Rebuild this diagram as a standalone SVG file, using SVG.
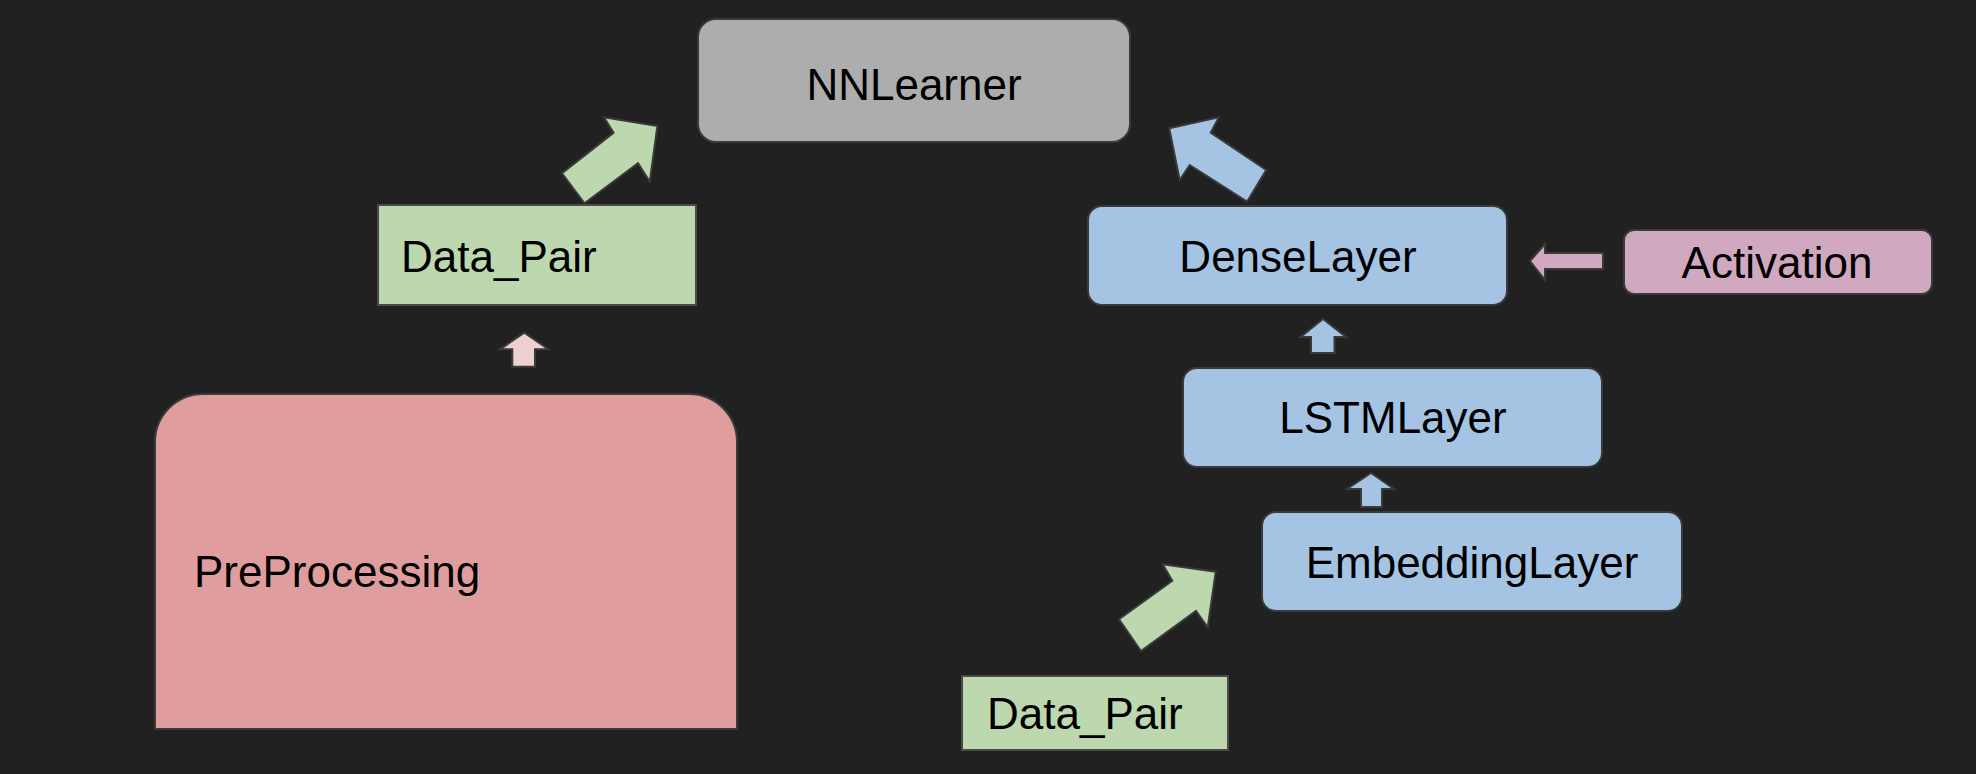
<svg xmlns="http://www.w3.org/2000/svg" width="1976" height="774" viewBox="0 0 1976 774">
<style>
.box{stroke:#3a3a3a;stroke-width:2}
.gray{fill:#adadad}
.green{fill:#bdd7ae;stroke:#4a4a4a}
.blue{fill:#a5c4e4}
.pink{fill:#d0a8bf}
.red{fill:#df9e9d}
.arrow{stroke:#3a3a3a;stroke-width:2;stroke-linejoin:miter}
text{font-family:"Liberation Sans",Arial,sans-serif;font-size:44px;fill:#000}
.c{text-anchor:middle}
</style>
<rect width="1976" height="774" fill="#212121"/>
<g id="connectors">
  <polygon class="arrow" fill="#bdd7ae" points="584.5,203.3 562,173.3 613.6,132.7 603.9,117.3 657.4,126 649.8,181.7 638,163.3"/>
  <polygon class="arrow" fill="#a5c4e4" points="1247,201.7 1266.2,170 1210.7,132.7 1218.9,117.3 1169.2,128.3 1179.7,180 1189.7,165"/>
  <polygon class="arrow" fill="#d0a8bf" points="1530,261 1545,244 1545,253 1603,253 1603,269 1545,269 1545,280"/>
  <polygon class="arrow" fill="#a5c4e4" points="1323,319 1346,337 1334.5,337 1334.5,353 1311,353 1311,337 1300.6,337"/>
  <polygon class="arrow" fill="#a5c4e4" points="1371,473 1394,489 1382,489 1382,507 1361,507 1361,489 1347,489"/>
  <polygon class="arrow" fill="#bdd7ae" points="1141,651 1119,619.3 1172.3,580.7 1162.7,564.3 1215.7,571.7 1207.7,627.3 1196,611"/>
  <polygon class="arrow" fill="#eed0d0" points="524.3,332.7 548.3,349.3 535,349.3 535,366.7 512.3,366.7 512.3,349.3 500,349.3"/>
</g>
<g id="nnlearner">
  <rect class="box gray" x="698" y="19" width="432" height="123" rx="18"/>
  <text class="c" x="914" y="100">NNLearner</text>
</g>
<g id="data_pair_top">
  <rect class="box green" x="378" y="205" width="318" height="100"/>
  <text x="401" y="272">Data_Pair</text>
</g>
<g id="denselayer">
  <rect class="box blue" x="1088" y="206" width="419" height="99" rx="14"/>
  <text class="c" x="1298" y="272">DenseLayer</text>
</g>
<g id="activation">
  <rect class="box pink" x="1624" y="230" width="308" height="64" rx="10"/>
  <text class="c" x="1777" y="278">Activation</text>
</g>
<g id="lstmlayer">
  <rect class="box blue" x="1183" y="368" width="419" height="99" rx="14"/>
  <text class="c" x="1393" y="433">LSTMLayer</text>
</g>
<g id="embeddinglayer">
  <rect class="box blue" x="1262" y="512" width="420" height="99" rx="14"/>
  <text class="c" x="1472" y="578">EmbeddingLayer</text>
</g>
<g id="preprocessing">
  <path class="box red" d="M155,729 L155,442 A48,48 0 0 1 203,394 L689,394 A48,48 0 0 1 737,442 L737,729 Z"/>
  <text x="194" y="587">PreProcessing</text>
</g>
<g id="data_pair_bottom">
  <rect class="box green" x="962" y="676" width="266" height="74"/>
  <text x="987" y="729">Data_Pair</text>
</g>
</svg>
